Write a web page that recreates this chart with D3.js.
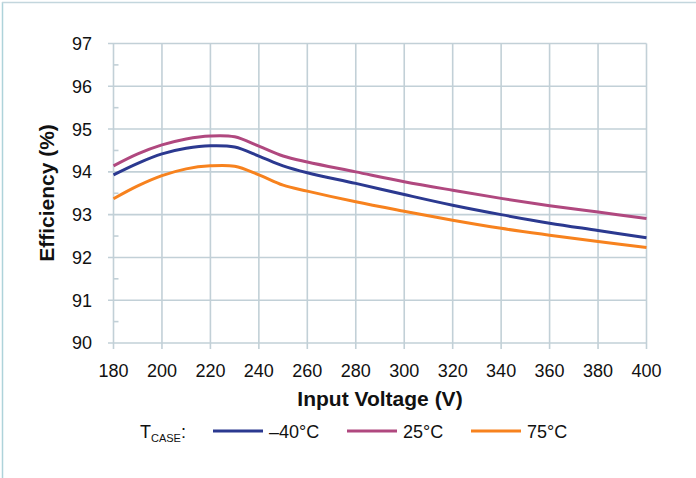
<!DOCTYPE html>
<html><head><meta charset="utf-8">
<script src="https://cdn.jsdelivr.net/npm/d3@7"></script>
<style>body{margin:0;background:#fff}svg{display:block;font-family:"Liberation Sans",Arial,sans-serif}</style>
</head><body>
<svg id="c" width="696" height="478"></svg>
<script>
const voltages = [180,190,200,210,220,230,240,250,260,280,300,320,340,360,380,400];
const effMinus40 = [93.93,94.20,94.42,94.55,94.61,94.58,94.37,94.14,93.98,93.73,93.47,93.22,93.00,92.80,92.63,92.46];
const eff25 = [94.14,94.42,94.63,94.77,94.84,94.82,94.60,94.37,94.23,94.00,93.77,93.57,93.38,93.21,93.06,92.91];
const eff75 = [93.37,93.67,93.91,94.07,94.14,94.13,93.93,93.69,93.55,93.30,93.08,92.87,92.68,92.52,92.37,92.23];
const seriesNames = ["\u201340\u00b0C","25\u00b0C","75\u00b0C"];
const seriesColors = ["#2b3990","#b0487f","#f7821e"];
const xTicks = [180,200,220,240,260,280,300,320,340,360,380,400];
const yTicks = [90,91,92,93,94,95,96,97];
const yMinor = [90.5,91.5,92.5,93.5,94.5,95.5,96.5];

const series = [effMinus40, eff25, eff75];
const svg = d3.select("#c");
const gridColor = "#c2d0d7";

// frame
svg.append("line").attr("x1",2.5).attr("x2",2.5).attr("y1",2).attr("y2",478).attr("stroke","#aed3da").attr("stroke-width",1.5);
svg.append("line").attr("x1",2).attr("x2",696).attr("y1",2.5).attr("y2",2.5).attr("stroke","#c3d6dd").attr("stroke-width",1.5);

const x = d3.scaleLinear().domain([180,400]).range([113.5,646.5]);
const y = d3.scaleLinear().domain([90,97]).range([343,43.5]);

// gridlines
svg.append("g").selectAll("line").data(yTicks).join("line")
  .attr("x1",108).attr("x2",x(400)).attr("y1",d=>y(d)).attr("y2",d=>y(d))
  .attr("stroke",gridColor).attr("stroke-width",1.6);
svg.append("g").selectAll("line").data(xTicks).join("line")
  .attr("x1",d=>x(d)).attr("x2",d=>x(d)).attr("y1",y(97)).attr("y2",349)
  .attr("stroke",gridColor).attr("stroke-width",1.6);
svg.append("g").selectAll("line").data(yMinor).join("line")
  .attr("x1",x(180)).attr("x2",x(180)+5).attr("y1",d=>y(d)).attr("y2",d=>y(d))
  .attr("stroke",gridColor).attr("stroke-width",1.6);

// tick labels
svg.append("g").selectAll("text").data(yTicks).join("text")
  .attr("x",92).attr("y",d=>y(d)).attr("dy","0.36em").attr("text-anchor","end")
  .attr("font-size",18).attr("fill","#111").text(d=>d);
svg.append("g").selectAll("text").data(xTicks).join("text")
  .attr("x",d=>x(d)).attr("y",377).attr("text-anchor","middle")
  .attr("font-size",18).attr("fill","#111").text(d=>d);

// titles
svg.append("text").attr("x",380).attr("y",406).attr("text-anchor","middle")
  .attr("font-size",21).attr("font-weight","bold").attr("fill","#111").text("Input Voltage (V)");
svg.append("text").attr("transform","translate(54,193) rotate(-90)").attr("text-anchor","middle")
  .attr("font-size",21).attr("font-weight","bold").attr("fill","#111").text("Efficiency (%)");

// lines
const line = d3.line().x((d,i)=>x(voltages[i])).y(d=>y(d)).curve(d3.curveCatmullRom.alpha(0.5));
series.forEach((s,k)=>{
  svg.append("path").datum(s).attr("d",line).attr("fill","none")
    .attr("stroke",seriesColors[k]).attr("stroke-width",3).attr("stroke-linejoin","round");
});

// legend
const lg = svg.append("g");
const tl = lg.append("text").attr("x",140).attr("y",438).attr("font-size",18).attr("fill","#111");
tl.append("tspan").text("T");
tl.append("tspan").attr("font-size",11).attr("dy",4).text("CASE");
tl.append("tspan").attr("dy",-4).text(":");
const legX = [213,347,471];
seriesNames.forEach((n,k)=>{
  lg.append("line").attr("x1",legX[k]).attr("x2",legX[k]+50).attr("y1",431).attr("y2",431)
    .attr("stroke",seriesColors[k]).attr("stroke-width",3);
  lg.append("text").attr("x",legX[k]+56).attr("y",438).attr("font-size",18).attr("fill","#111").text(n);
});
</script>
</body></html>
